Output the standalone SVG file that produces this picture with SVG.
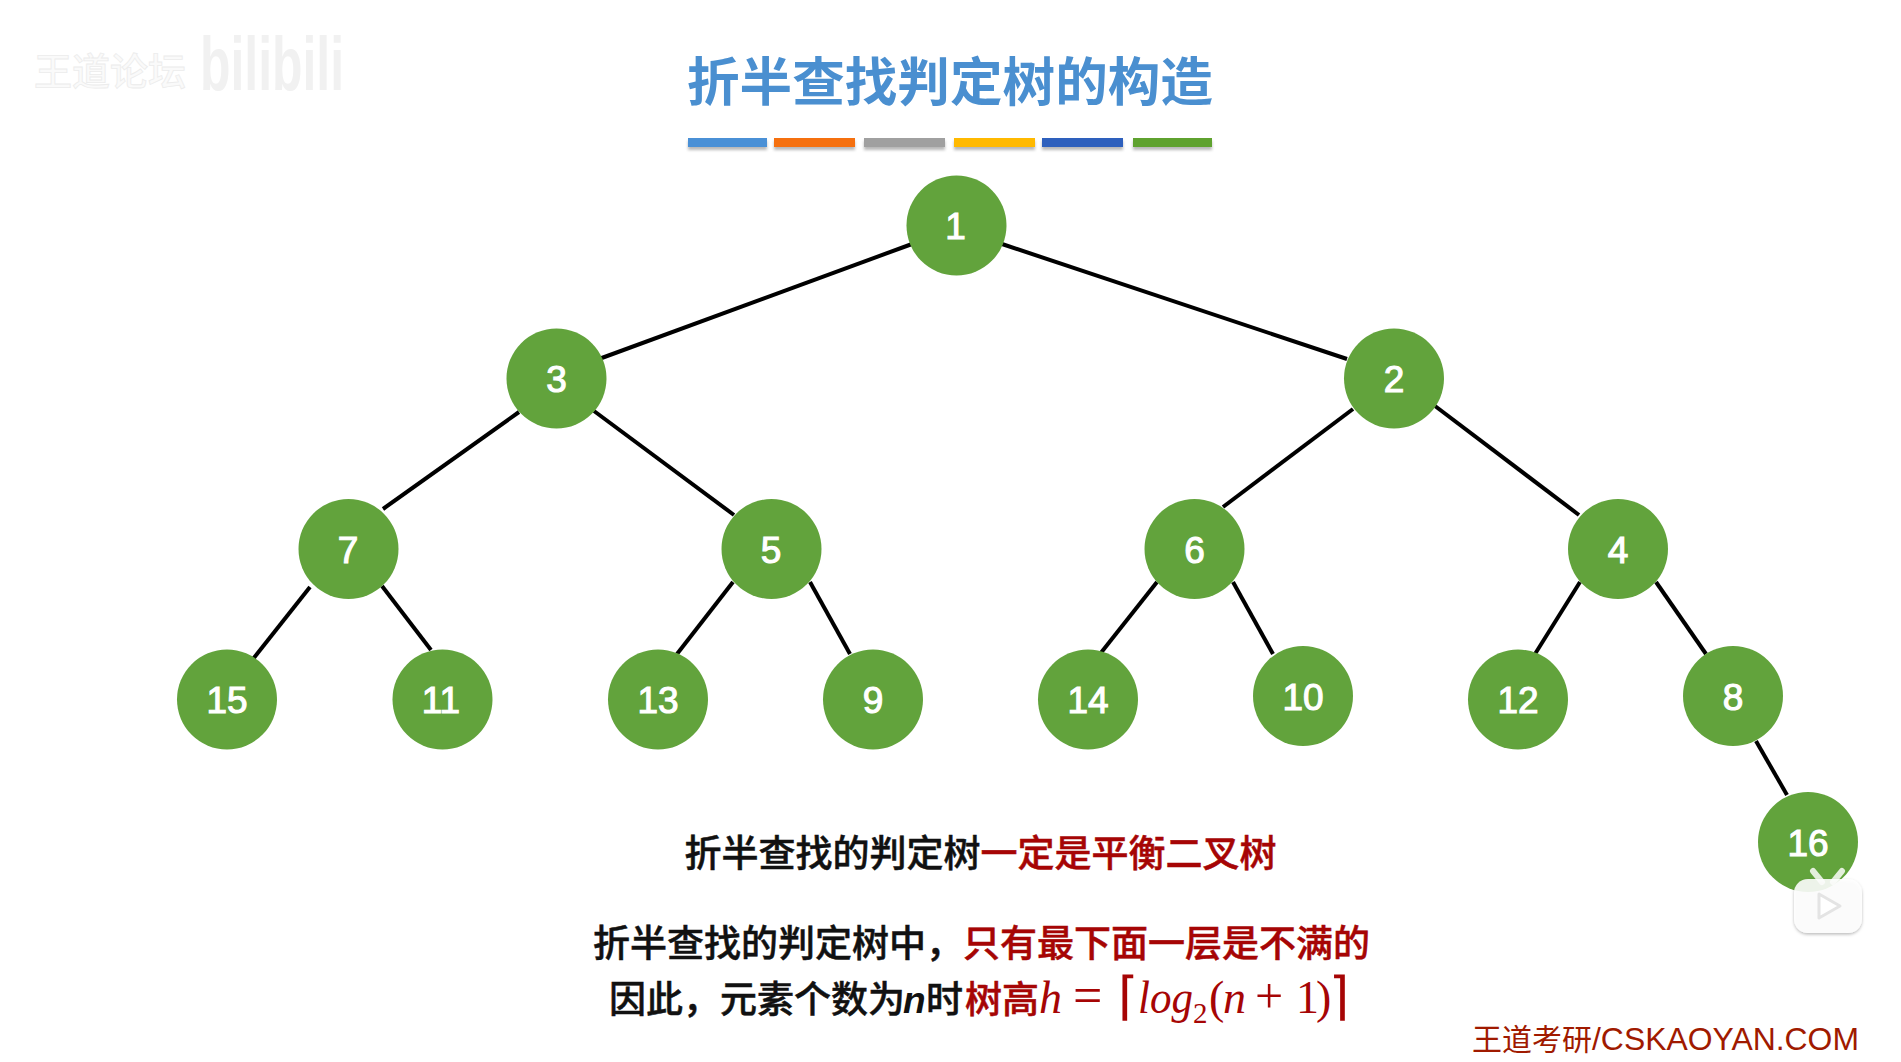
<svg xmlns="http://www.w3.org/2000/svg" width="1901" height="1062" viewBox="0 0 1901 1062">
<defs>
<filter id="soft" x="-10%" y="-100%" width="120%" height="300%"><feGaussianBlur stdDeviation="1.5"/></filter>
<filter id="iconShadow" x="-20%" y="-20%" width="140%" height="140%"><feDropShadow dx="0" dy="1.5" stdDeviation="1.5" flood-color="#000" flood-opacity="0.3"/></filter>
</defs>
<style>
.cjk{font-family:"Noto Sans CJK SC","Noto Sans",sans-serif}
.t{font-size:37px;font-weight:500;fill:#111;stroke:#111;stroke-width:.5}
.tr{fill:#a60505;stroke:#a60505;stroke-width:.5}
.m{font-family:"Liberation Serif",serif;font-size:46px;fill:#a60505}
.b{font-family:"DejaVu Sans ExtraLight","DejaVu Sans",sans-serif;font-size:52px;font-weight:200;fill:#a60505}
.i{font-style:italic}
.n{fill:#62a33c}
.l{font-family:"Liberation Sans",Arial,sans-serif;font-size:37px;fill:#fff;stroke:#fff;stroke-width:1.1;text-anchor:middle}
#connectors line{stroke:#000;stroke-width:4;stroke-linecap:butt}
.sh{fill:#888;opacity:.6;filter:url(#soft)}
</style>
<rect width="1901" height="1062" fill="#fff"/>
<g id="watermark">
<text class="cjk" x="34" y="85" font-size="38" font-weight="500" fill="#fafafa" stroke="#ececec" stroke-width=".8">王道论坛</text>
<text x="200" y="90" font-family="'Liberation Sans',sans-serif" font-size="76" font-weight="700" fill="#f1f1f1" textLength="144" lengthAdjust="spacingAndGlyphs">bilibili</text>
</g>
<g id="title">
<text class="cjk" x="687" y="101" font-size="52.6" font-weight="700" fill="#4a8fd0">折半查找判定树的构造</text>
<rect class="sh" x="688" y="141" width="79" height="9"/><rect class="sh" x="774" y="141" width="81" height="9"/><rect class="sh" x="864" y="141" width="81" height="9"/><rect class="sh" x="954" y="141" width="81" height="9"/><rect class="sh" x="1042" y="141" width="81" height="9"/><rect class="sh" x="1133" y="141" width="79" height="9"/>
<rect x="688" y="138" width="79" height="9" fill="#4a90d6"/><rect x="774" y="138" width="81" height="9" fill="#f5700f"/><rect x="864" y="138" width="81" height="9" fill="#a0a0a0"/><rect x="954" y="138" width="81" height="9" fill="#ffb900"/><rect x="1042" y="138" width="81" height="9" fill="#2e60bd"/><rect x="1133" y="138" width="79" height="9" fill="#5fa22f"/>
</g>
<g id="connectors">
<line x1="912" y1="244" x2="599" y2="359"/>
<line x1="1002" y1="244" x2="1347" y2="359"/>
<line x1="519" y1="412" x2="383" y2="509"/>
<line x1="594" y1="411" x2="734" y2="515"/>
<line x1="310" y1="587" x2="253" y2="659"/>
<line x1="382" y1="586" x2="431" y2="650"/>
<line x1="733" y1="582" x2="677" y2="654"/>
<line x1="810" y1="582" x2="850" y2="654"/>
<line x1="1353" y1="409" x2="1223" y2="507"/>
<line x1="1435" y1="406" x2="1579" y2="515"/>
<line x1="1157" y1="582" x2="1100" y2="654"/>
<line x1="1233" y1="582" x2="1273" y2="654"/>
<line x1="1580" y1="582" x2="1535" y2="654"/>
<line x1="1656" y1="582" x2="1706" y2="654"/>
<line x1="1756" y1="741" x2="1787" y2="795"/>
</g>
<g id="node-1"><circle class="n" cx="956.5" cy="225.5" r="50"/><text class="l" x="955.5" y="239">1</text></g>
<g id="node-3"><circle class="n" cx="556.5" cy="378.5" r="50"/><text class="l" x="556.5" y="392">3</text></g>
<g id="node-2"><circle class="n" cx="1394" cy="378.5" r="50"/><text class="l" x="1394" y="392">2</text></g>
<g id="node-7"><circle class="n" cx="348.5" cy="549" r="50"/><text class="l" x="348" y="563">7</text></g>
<g id="node-5"><circle class="n" cx="771.5" cy="549" r="50"/><text class="l" x="771" y="563">5</text></g>
<g id="node-6"><circle class="n" cx="1194.5" cy="549" r="50"/><text class="l" x="1194.5" y="563">6</text></g>
<g id="node-4"><circle class="n" cx="1618" cy="549" r="50"/><text class="l" x="1618" y="563">4</text></g>
<g id="node-15"><circle class="n" cx="227" cy="699.5" r="50"/><text class="l" x="227" y="713">15</text></g>
<g id="node-11"><circle class="n" cx="442.5" cy="699.5" r="50"/><text class="l" x="441" y="713">11</text></g>
<g id="node-13"><circle class="n" cx="658" cy="699.5" r="50"/><text class="l" x="658" y="713">13</text></g>
<g id="node-9"><circle class="n" cx="873" cy="699.5" r="50"/><text class="l" x="873" y="713">9</text></g>
<g id="node-14"><circle class="n" cx="1088" cy="699.5" r="50"/><text class="l" x="1088" y="713">14</text></g>
<g id="node-10"><circle class="n" cx="1303" cy="696" r="50"/><text class="l" x="1303" y="710">10</text></g>
<g id="node-12"><circle class="n" cx="1518" cy="699.5" r="50"/><text class="l" x="1518" y="713">12</text></g>
<g id="node-8"><circle class="n" cx="1733" cy="696" r="50"/><text class="l" x="1733" y="710">8</text></g>
<g id="node-16"><circle class="n" cx="1808" cy="842" r="50"/><text class="l" x="1808" y="856">16</text></g>
<g id="notes">
<text class="t cjk" x="684.5" y="867">折半查找的判定树<tspan class="tr">一定是平衡二叉树</tspan></text>
<text class="t cjk" x="593" y="957">折半查找的判定树中，<tspan class="tr">只有最下面一层是不满的</tspan></text>
<text class="t cjk" x="609" y="1013">因此，元素个数为</text>
<text x="903" y="1013" font-family="'Liberation Sans',sans-serif" font-size="37" font-weight="700" font-style="italic" fill="#111">n</text>
<text class="t cjk" x="926" y="1013">时</text>
<text class="t cjk tr" x="965" y="1013">树高</text>
<text class="m i" x="1039" y="1013">h</text>
<text class="m" x="1073" y="1013" style="font-size:52px">=</text>
<text class="b" x="1118" y="1014">⌈</text>
<text class="m i" x="1138" y="1013" textLength="55" lengthAdjust="spacingAndGlyphs">log</text>
<text class="m" x="1193" y="1023" style="font-size:29px">2</text>
<text class="m" x="1209" y="1013">(</text>
<text class="m i" x="1223" y="1013">n</text>
<text class="m" x="1255" y="1013" style="font-size:50px">+</text>
<text class="m" x="1296" y="1013">1</text>
<text class="m" x="1316" y="1013">)</text>
<text class="b" x="1329" y="1014">⌉</text>
</g>
<g id="brand">
<text x="1472" y="1050" class="cjk" font-size="30" fill="#a01a00">王道考研<tspan font-family="'Liberation Sans',sans-serif" font-size="31.9">/CSKAOYAN.COM</tspan></text>
</g>
<g id="tv-icon">
<line x1="1813" y1="871" x2="1822" y2="882" stroke="#e4efdc" stroke-width="6" stroke-linecap="round"/>
<line x1="1842" y1="871" x2="1833" y2="882" stroke="#e4efdc" stroke-width="6" stroke-linecap="round"/>
<rect x="1794" y="879" width="68" height="54" rx="14" fill="#fff" fill-opacity=".88" filter="url(#iconShadow)"/>
<path d="M1819 894 L1840 906 L1819 918 Z" fill="#fff" stroke="#e4e4e4" stroke-width="3" stroke-linejoin="round"/>
</g>
</svg>
